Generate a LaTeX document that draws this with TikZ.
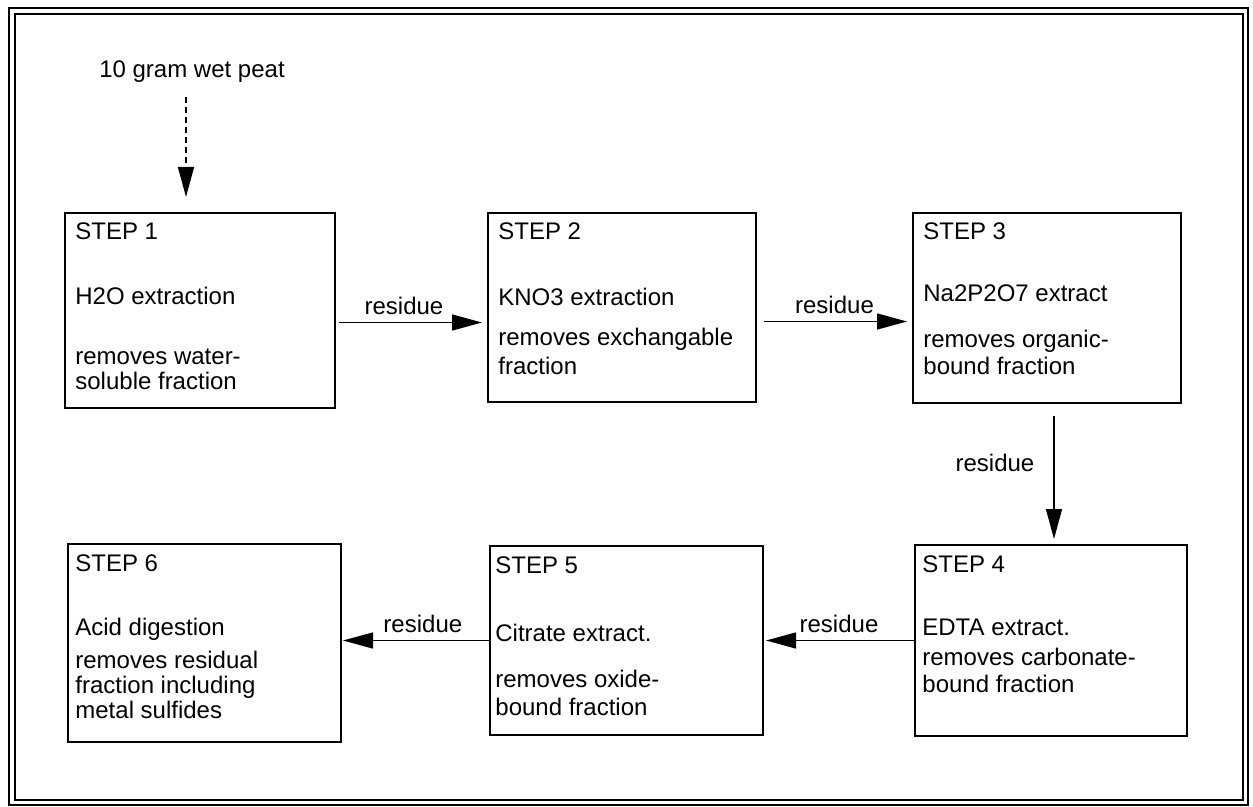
\documentclass[tikz,border=0pt]{standalone}
\usepackage{fontspec}
\setmainfont{Liberation Sans}
\usetikzlibrary{positioning,calc,arrows.meta,fit}

\tikzset{
  stepbox/.style={draw, line width=1pt, inner sep=0pt},
  txt/.style={anchor=base west, inner sep=0pt, font=\fontsize{12}{14}\selectfont},
  lbl/.style={font=\fontsize{12}{14}\selectfont, inner sep=3.5pt},
  flow/.style={line width=0.7pt, -{Triangle[length=15pt,width=8pt]}}
}

\begin{document}
\begin{tikzpicture}[x=0.5pt,y=-0.5pt]
  \useasboundingbox (0,0) rectangle (1253,807);
  % cadre double
  \draw[line width=1pt] (9,8) rectangle (1248,805);
  \draw[line width=0.6pt] (15,14) rectangle (1243,800);
  % les six etapes
  \foreach \nom/\xa/\ya/\xb/\yb/\tx/\num/\meth/\my/\dy/\dsk/\lignes in {
      {step1/65/213/335/408/75/1/H2O extraction/305/365/25/{removes water-,soluble fraction}},
      {step2/488/213/756/402/498/2/KNO3 extraction/306/346/29/{removes exchangable,fraction}},
      {step3/913/213/1181/403/923/3/Na2P2O7 extract/302/348/27/{removes organic-,bound fraction}},
      {step4/915/545/1187/736/922/4/EDTA extract./635/665/27/{removes carbonate-,bound fraction}},
      {step5/490/546/763/735/495/5/Citrate extract./641/687/28/{removes oxide-,bound fraction}},
      {step6/68/544/341/742/75/6/Acid digestion/635/668/25/{removes residual,fraction including,metal sulfides}}}{
    \node[stepbox, fit={(\xa,\ya) (\xb,\yb)}] (\nom) {};
    \node[txt] at (\tx,{\ya+27}) {STEP \num};
    \node[txt] at (\tx,\my) {\meth};
    \foreach \l [count=\j from 0] in \lignes
      \node[txt] at (\tx,{\dy+\j*\dsk}) {\l};
  }
  % entree
  \node[lbl, anchor=base] (peat) at (192,78) {10 gram wet peat};
  \draw[flow, densely dashed, shorten <=3.5pt, shorten >=7.5pt]
    ([xshift=-7pt]step1.north |- peat.south) -- ([xshift=-7pt]step1.north);
  % residus
  \draw[flow, shorten <=1.5pt, shorten >=2.5pt] ([yshift=-6pt]step1.east) -- ([yshift=-6pt]step1.east -| step2.west)
    node[lbl, above, pos=0.45] {residue};
  \draw[flow, shorten <=3.5pt, shorten >=2.5pt] ([yshift=-7pt]step2.east) -- ([yshift=-7pt]step2.east -| step3.west)
    node[lbl, above, pos=0.5] {residue};
  \draw[flow, shorten <=6pt, shorten >=2.5pt] ([xshift=3.5pt]step3.south) -- ([xshift=3.5pt]step3.south |- step4.north)
    node[lbl, left=6pt, pos=0.42] {residue};
  \draw[flow, shorten >=1pt] (step4.west) -- (step4.west -| step5.east)
    node[lbl, above, pos=0.5] {residue};
  \draw[flow, shorten >=0.5pt] (step5.west) -- (step5.west -| step6.east)
    node[lbl, above, pos=0.45] {residue};
\end{tikzpicture}
\end{document}
